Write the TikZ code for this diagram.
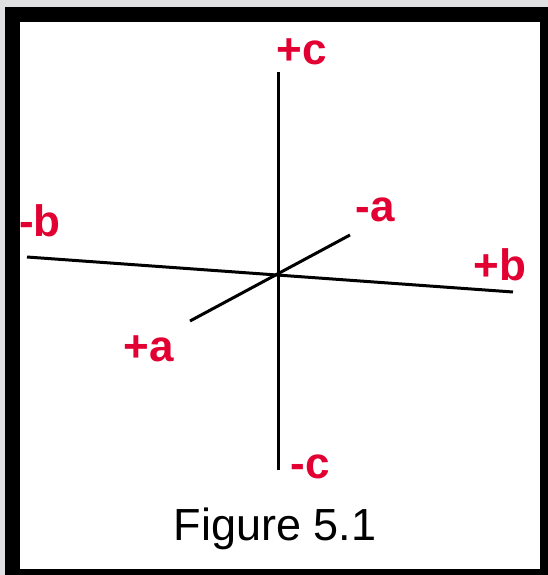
\documentclass[tikz,border=0pt]{standalone}
\usepackage{fontspec}
\setmainfont{Liberation Sans}
\usepackage{tikz}
\usetikzlibrary{
  positioning
}
\definecolor{AxisRed}{RGB}{226,0,50}
\definecolor{EdgeGray}{RGB}{224,224,226}
\tikzset{
  axisline/.style={draw=black,line width=3pt},
  axislabel/.style={text=AxisRed,inner sep=0pt,font=\fontsize{44}{44}\selectfont\bfseries},
  caption/.style={text=black,inner sep=0pt,font=\fontsize{45}{45}\selectfont}
}
\begin{document}
\begin{tikzpicture}[x=1pt,y=-1pt]
\fill[EdgeGray] (0,0) rectangle (548,575);
\useasboundingbox (0,0) rectangle (548,575);
\fill[black] (5,7) rectangle (548,575);
\fill[white] (20,22) rectangle (540,569);
\coordinate (ctop) at (278,72);
\coordinate (cbot) at (278,470);
\coordinate (bneg) at (27,257);
\coordinate (bpos) at (513,292);
\coordinate (apos) at (190,321);
\coordinate (aneg) at (350,235);
\draw[axisline] (ctop) -- (cbot);
\draw[axisline] (bneg) -- (bpos);
\draw[axisline] (apos) -- (aneg);
\node[axislabel] (plusc) at (302,52) {+c};
\node[axislabel] (minusa) at (375,210) {-a};
\node[axislabel] (minusb) at (40,221) {-b};
\node[axislabel] (plusb) at (500,265) {+b};
\node[axislabel] (plusa) at (149,349) {+a};
\node[axislabel] (minusc) at (310,467) {-c};
\node[caption] (figlabel) at (275,529) {Figure 5.1};
\end{tikzpicture}
\end{document}
